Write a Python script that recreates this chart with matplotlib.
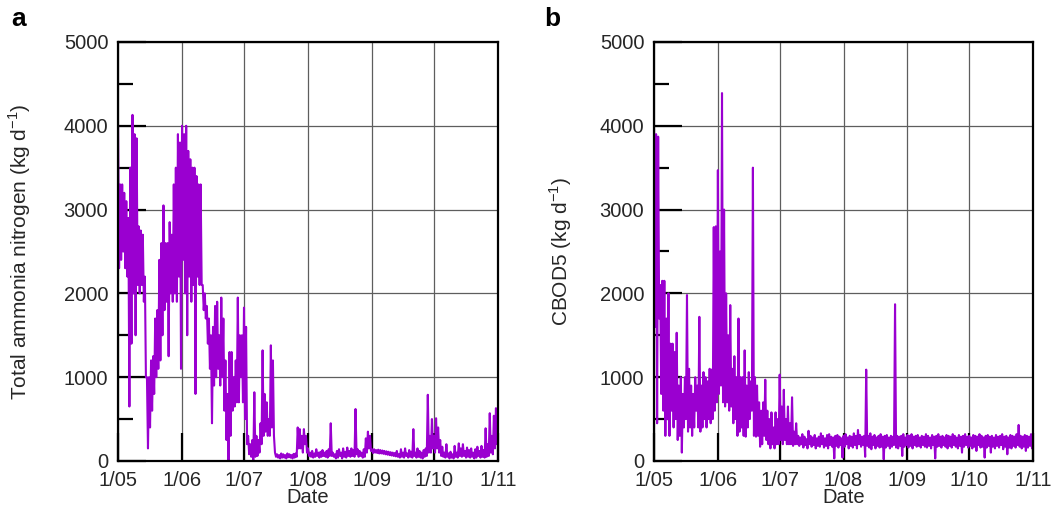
import numpy as np
import matplotlib
matplotlib.use("Agg")
import matplotlib.pyplot as plt

plt.rcParams['font.family'] = ['Liberation Sans', 'DejaVu Sans']

# daily high / low readings from 1 May
tan_high = [
    4000, 3300, 3300, 3200, 3100, 2900, 3500, 4130, 3900, 3850,
    2800, 2750, 2700, 2200, 1000, 1000, 1200, 1250, 1700, 1800,
    2400, 2600, 3050, 2600, 2600, 2850, 2700, 3300, 3500, 3900,
    3800, 4000, 3900, 4000, 3700, 3600, 3500, 3500, 3400, 3300,
    3300, 2100, 2000, 1850, 1700, 1500, 1600, 1850, 1900, 1500,
    1950, 1700, 1200, 800, 1300, 1300, 1000, 1200, 1950, 1500,
    1500, 1830, 1600, 300, 200, 250, 820, 300, 250, 450,
    1320, 800, 700, 500, 1380, 1200, 100, 80, 70, 90,
    80, 70, 90, 80, 70, 85, 90, 400, 380, 300,
    380, 300, 150, 100, 120, 90, 140, 100, 110, 130,
    100, 120, 140, 450, 100, 80, 120, 140, 100, 150,
    110, 160, 120, 150, 130, 620, 140, 120, 100, 140,
    270, 350, 300, 140, 140, 130, 135, 130, 125, 120,
    115, 110, 105, 100, 95, 120, 80, 140, 100, 150,
    90, 130, 110, 380, 100, 150, 120, 100, 130, 150,
    790, 300, 500, 300, 510, 400, 250, 170, 100, 200,
    90, 110, 80, 180, 100, 210, 150, 200, 120, 160,
    130, 150, 100, 140, 170, 120, 180, 130, 390, 200,
    570, 300, 540, 630, 600,
]
tan_low = [
    2300, 2400, 2500, 2300, 2200, 650, 1400, 2000, 1500, 2100,
    2000, 2100, 1900, 1000, 150, 400, 600, 800, 1000, 1100,
    1200, 1500, 1800, 1900, 1250, 2000, 1900, 2000, 1900, 2200,
    1100, 2400, 2000, 1500, 2200, 1900, 2100, 800, 2200, 2100,
    2100, 1800, 1700, 1400, 1100, 450, 900, 1000, 1100, 900,
    1000, 600, 250, 0, 300, 600, 650, 700, 700, 1000,
    700, 500, 200, 80, 50, 0, 50, 60, 100, 200,
    300, 350, 300, 300, 400, 300, 50, 40, 30, 40,
    40, 30, 45, 40, 30, 40, 50, 150, 150, 100,
    200, 100, 60, 50, 40, 50, 60, 40, 50, 60,
    50, 40, 60, 60, 50, 30, 40, 60, 30, 50,
    40, 60, 50, 60, 50, 80, 50, 60, 40, 50,
    100, 150, 120, 95, 100, 95, 90, 90, 85, 80,
    75, 70, 65, 60, 55, 50, 40, 50, 40, 60,
    40, 50, 40, 60, 40, 50, 40, 30, 50, 60,
    100, 100, 150, 100, 150, 100, 60, 50, 40, 50,
    30, 40, 30, 50, 40, 60, 50, 60, 40, 50,
    40, 50, 30, 40, 60, 40, 50, 40, 50, 60,
    100, 80, 150, 200, 250,
]

cbod_high = [
    3950, 3900, 3870, 2100, 2150, 2150, 1700, 2000, 1400, 1400,
    1300, 1530, 900, 1000, 800, 1000, 1980, 1100, 900, 800,
    1000, 900, 1720, 900, 1060, 1000, 950, 1100, 1090, 2790,
    2800, 3470, 2500, 4390, 3000, 2000, 1500, 1860, 1100, 1250,
    1000, 1700, 1000, 1000, 1320, 900, 1060, 950, 3500, 1000,
    900, 700, 600, 700, 970, 600, 500, 580, 400, 580,
    500, 1030, 650, 850, 500, 650, 450, 760, 350, 450,
    300, 280, 320, 290, 260, 360, 300, 280, 310, 270,
    290, 330, 300, 270, 310, 320, 290, 280, 300, 310,
    290, 270, 300, 320, 280, 300, 290, 330, 300, 370,
    310, 290, 300, 1090, 300, 330, 290, 310, 280, 300,
    320, 290, 300, 310, 280, 300, 290, 1870, 300, 290,
    300, 320, 280, 310, 300, 320, 290, 300, 310, 280,
    300, 290, 320, 300, 280, 310, 290, 300, 320, 290,
    300, 280, 310, 300, 290, 320, 300, 280, 310, 290,
    300, 320, 290, 300, 280, 310, 300, 290, 320, 300,
    280, 300, 310, 290, 300, 280, 310, 290, 300, 320,
    290, 300, 280, 310, 300, 290, 320, 430, 300, 290,
    310, 300, 290, 320, 300,
]
cbod_low = [
    1600, 450, 1700, 800, 600, 300, 500, 300, 600, 400,
    500, 250, 300, 100, 400, 500, 350, 400, 300, 400,
    600, 400, 350, 400, 500, 400, 500, 450, 500, 600,
    700, 800, 900, 700, 650, 700, 600, 650, 450, 500,
    300, 350, 400, 300, 290, 400, 500, 600, 300, 290,
    300, 170, 200, 300, 250, 200, 150, 200, 150, 200,
    200, 250, 200, 250, 200, 200, 200, 180, 200, 200,
    180, 200, 160, 190, 150, 200, 170, 190, 150, 180,
    170, 200, 160, 180, 150, 190, 170, 30, 180, 160,
    190, 40, 170, 200, 150, 180, 160, 190, 150, 200,
    170, 190, 50, 180, 160, 140, 190, 150, 180, 160,
    170, 20, 160, 180, 150, 170, 190, 160, 150, 180,
    60, 170, 190, 160, 180, 150, 190, 170, 180, 160,
    190, 170, 160, 180, 150, 190, 30, 170, 180, 160,
    190, 170, 150, 180, 160, 190, 170, 150, 180, 100,
    170, 190, 160, 180, 150, 170, 120, 190, 160, 170,
    40, 160, 180, 100, 170, 150, 180, 160, 190, 140,
    170, 80, 160, 150, 180, 160, 190, 170, 150, 170,
    120, 160, 180, 150, 170,
]

month_starts = [0, 31, 61, 92, 123, 153, 184]
month_labels = ['1/05', '1/06', '1/07', '1/08', '1/09', '1/10', '1/11']

line_color = '#9a00d0'
txt = '#262626'
fs = 14.5


def half_daily(high, low):
    # high reading at the start of each day, low reading half a day later
    t = np.ravel(np.column_stack([np.arange(len(high)), np.arange(len(low)) + 0.5]))
    v = np.ravel(np.column_stack([high, low]))
    return t, v


fig = plt.figure(figsize=(10.52, 5.20), dpi=100)
ax_a = fig.add_axes([0.1122, 0.1135, 0.3612, 0.8058])
ax_b = fig.add_axes([0.6217, 0.1135, 0.3603, 0.8058])

panels = [
    (ax_a, tan_high, tan_low, 'Total ammonia nitrogen (kg d$^{\\mathregular{-1}}$)'),
    (ax_b, cbod_high, cbod_low, 'CBOD5 (kg d$^{\\mathregular{-1}}$)'),
]

for ax, hi, lo, ylab in panels:
    t, v = half_daily(hi, lo)
    ax.plot(t, v, color=line_color, lw=1.5, zorder=3)
    ax.set_xlim(month_starts[0], month_starts[-1])
    ax.set_ylim(0, 5000)
    ax.set_xticks(month_starts)
    ax.set_xticklabels(month_labels)
    ax.set_yticks(np.arange(0, 5001, 1000))
    ax.set_yticks(np.arange(500, 5000, 1000), minor=True)
    ax.grid(True, which='major', color='#5e5e5e', lw=0.9, zorder=1)
    ax.tick_params(axis='both', which='major', direction='in', length=20,
                   width=1.6, color='black', labelsize=fs, labelcolor=txt)
    ax.tick_params(axis='y', which='major', pad=7)
    ax.tick_params(axis='x', which='major', pad=7)
    ax.tick_params(axis='y', which='minor', direction='in', length=11,
                   width=1.6, color='black')
    ax.tick_params(top=False, right=False, which='both')
    for s in ax.spines.values():
        s.set_linewidth(1.6)
        s.set_color('black')
        s.set_zorder(5)
    ax.set_xlabel('Date', fontsize=fs, color=txt, labelpad=-1)
    ax.set_ylabel(ylab, fontsize=15, color=txt)

ax_a.yaxis.set_label_coords(-0.224, 0.5)
ax_b.yaxis.set_label_coords(-0.21, 0.5)

fig.text(0.011, 0.963, 'a', fontsize=19, fontweight='bold', va='center')
fig.text(0.517, 0.963, 'b', fontsize=19, fontweight='bold', va='center')

fig.savefig('out.png', dpi=100, facecolor='white')
